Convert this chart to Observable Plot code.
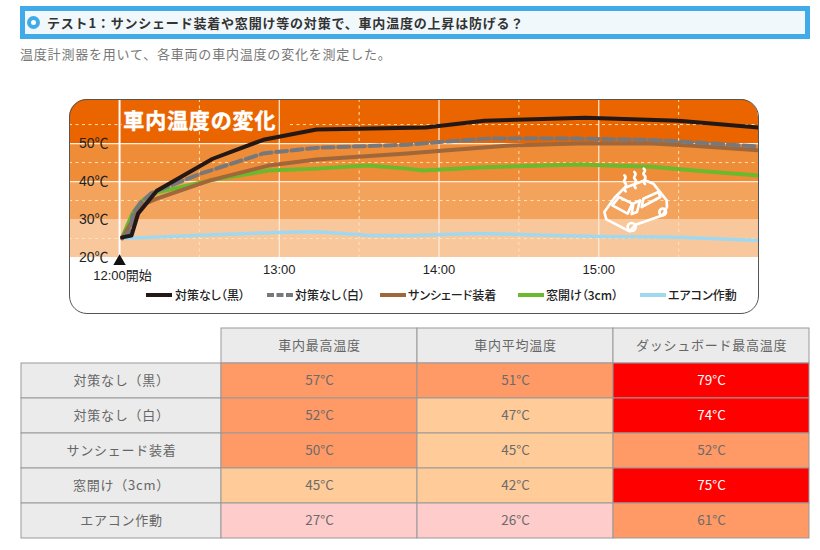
<!DOCTYPE html>
<html lang="ja">
<head>
<meta charset="utf-8">
<script src="https://cdn.jsdelivr.net/npm/d3@7"></script>
<script src="https://cdn.jsdelivr.net/npm/@observablehq/plot@0.6"></script>
<style>
html,body{margin:0;padding:0;background:#fff;width:820px;height:550px;overflow:hidden;font-family:"Noto Sans CJK JP","Noto Sans",sans-serif}
#head{position:absolute;left:20px;top:6px;width:780px;height:23px;border:5px solid #41aae8;background:#f1f8fc;color:#333;font-weight:700;font-size:13px;letter-spacing:.8px;line-height:23px}
#head i{position:absolute;left:1.5px;top:4.5px;width:5px;height:5px;border:4px solid #41aae8;border-radius:50%;background:#fff}
#head span{position:absolute;left:22px;top:0;white-space:nowrap}
#sub{position:absolute;left:20px;top:44px;color:#777;font-size:13px;letter-spacing:.8px;line-height:20px;white-space:nowrap}
#panel{position:absolute;left:69px;top:99px;width:689px;height:214px;border-radius:18px;overflow:hidden;background:#fff}
#panel svg{display:block}
#edge{position:absolute;left:68.5px;top:98.5px;width:688px;height:213px;border:1px solid #555;border-radius:18px;pointer-events:none}
#car{position:absolute;left:595px;top:162px;width:85px;height:76px}
#legend span{position:absolute;top:287px;color:#222;font-size:12px;font-weight:500;line-height:16px;white-space:nowrap;font-feature-settings:"palt"}
#legend svg{position:absolute;top:293px;width:26px;height:4px}
#table{position:absolute;left:0;top:320px}
.spaced text{letter-spacing:.75px}
.title-text text{letter-spacing:.85px}
</style>
</head>
<body>
<div id="head"><i></i><span>テスト1：サンシェード装着や窓開け等の対策で、車内温度の上昇は防げる？</span></div>
<div id="sub">温度計測器を用いて、各車両の車内温度の変化を測定した。</div>
<div id="panel"></div>
<div id="edge"></div>
<svg id="car" viewBox="0 0 255 228" fill="none" stroke="#fff" stroke-width="8" stroke-linejoin="round" stroke-linecap="round">
  <path d="M28 150 L58 108 L88 78 L150 55 L175 65 L215 115 L216 135 L203 160 L122 188 L104 208 L34 172 Z"/>
  <path d="M52 130 L72 105 L112 125 L98 155 Z"/>
  <path d="M115 125 L135 115 L126 150 L110 156 Z"/>
  <path d="M145 110 L190 90 L196 105 L140 135 Z"/>
  <circle cx="110" cy="195" r="12"/>
  <circle cx="203" cy="150" r="10"/>
  <path d="M92 88 C80 78 102 72 90 62 C80 54 100 50 88 40"/>
  <path d="M122 78 C110 68 132 62 120 52 C110 44 130 40 118 30"/>
  <path d="M150 66 C138 56 160 50 148 40 C138 32 158 28 146 20"/>
</svg>
<div id="legend"></div>
<div id="table"></div>
<script>
// Chart data: minutes after 12:00, temperature in °C
const blackMin = [1, 4.5, 7, 14, 35, 54, 74, 115, 137, 175, 210, 240];
const blackTemp = [25.3, 25.8, 31.6, 37.6, 46, 51, 53.7, 54.2, 56, 56.8, 56, 54.2];
const whiteMin = [1, 4, 5, 8, 11.7, 14.3, 30.5, 54, 74.5, 108, 122, 138, 172, 197, 212, 240];
const whiteTemp = [25.3, 27, 31.6, 34.5, 36.8, 37.6, 42.1, 47.4, 48.9, 49.7, 50.5, 51.3, 51.3, 51, 50.5, 49.2];
const shadeMin = [1, 8, 14, 34, 56, 74, 108, 122, 147, 172, 200, 214, 240];
const shadeTemp = [25, 33.7, 35.5, 40.3, 44.2, 45.8, 47.4, 48.2, 49.5, 50, 50, 49.5, 48.2];
const windowMin = [1, 5, 8.6, 14, 34, 56, 74, 93, 108, 114, 135, 172, 200, 216, 240];
const windowTemp = [25.3, 31.8, 35, 37.1, 40.3, 42.9, 43.4, 44.2, 43.4, 42.9, 43.7, 44.5, 43.9, 42.9, 41.6];
const acMin = [1, 28, 59, 74.5, 94, 109, 135, 180, 210, 240];
const acTemp = [25, 25.8, 26.6, 26.8, 25.8, 25.8, 26.3, 25.5, 25.3, 24.5];

const seriesNames = ["エアコン作動", "窓開け（3cm）", "サンシェード装着", "対策なし（白）", "対策なし（黒）"];
const seriesColors = ["#a0d8ef", "#6cb92d", "#a0673a", "#77787b", "#231815"];
const seriesMins = [acMin, windowMin, shadeMin, whiteMin, blackMin];
const seriesTemps = [acTemp, windowTemp, shadeTemp, whiteTemp, blackTemp];

const bandLows = [20, 30, 40, 50];
const bandHighs = [30, 40, 50, 61.6];
const bandColors = ["#f8c89c", "#f3a35c", "#ef8c38", "#ea6500"];
const hourTicks = [60, 120, 180];
const hourLabels = ["13:00", "14:00", "15:00"];
const tempTicks = [20, 30, 40, 50];

// Table data
const tableCols = ["車内最高温度", "車内平均温度", "ダッシュボード最高温度"];
const tableRows = ["対策なし（黒）", "対策なし（白）", "サンシェード装着", "窓開け（3cm）", "エアコン作動"];
const maxTemp = [57, 52, 50, 45, 27];
const avgTemp = [51, 47, 45, 42, 26];
const dashTemp = [79, 74, 52, 75, 61];

const lines = seriesNames.map((name, i) => {
  const rows = seriesMins[i].map((m, j) => ({m, t: seriesTemps[i][j]}));
  return Plot.line(rows, {
    x: "m", y: "t", stroke: seriesColors[i], strokeWidth: i === 0 ? 3.5 : 4,
    strokeDasharray: i === 3 ? "11,4.6" : null, strokeLinejoin: "round"
  });
});

const bands = bandLows.map((lo, i) => ({lo, hi: bandHighs[i], c: bandColors[i]}));
const dashColor = "#ffe3b5";

const chart = Plot.plot({
  width: 689, height: 214,
  marginLeft: 0, marginRight: 0, marginTop: 0, marginBottom: 56,
  style: {background: "#fff", fontFamily: '"Liberation Sans","Noto Sans CJK JP",sans-serif', overflow: "visible"},
  x: {domain: [-18.8, 240], axis: null},
  y: {domain: [20, 61.6], axis: null},
  marks: [
    Plot.rect(bands, {x1: -18.8, x2: 240, y1: "lo", y2: "hi", fill: "c"}),
    Plot.ruleY([25, 35, 45, 55], {stroke: dashColor, strokeWidth: 1, strokeDasharray: "3,3.5"}),
    Plot.ruleX([30, 90, 150, 210], {stroke: dashColor, strokeWidth: 1, strokeDasharray: "3,3.5"}),
    Plot.rect([{}], {x1: 1, x2: 63, y1: 53.5, y2: 58, fill: "#ea6500"}),
    Plot.ruleY([40, 50], {stroke: "#ffeedd", strokeWidth: 1.2}),
    Plot.ruleX(hourTicks, {stroke: "#ffeedd", strokeWidth: 1.2}),
    Plot.ruleX([0], {stroke: "#fff", strokeWidth: 2}),
    Plot.text(["車内温度の変化"], {
      x: 1.4, y: 55.9, text: d => d, textAnchor: "start", fill: "#fff", stroke: "#fff", strokeWidth: 0.5,
      fontSize: 21, fontWeight: 700, fontFamily: '"Noto Sans CJK JP"', className: "title-text"
    }),
    Plot.axisY(tempTicks, {
      anchor: "left", tickSize: 0, tickPadding: 0, dx: 39,
      tickFormat: d => d + "℃", label: null, fontSize: 14, fill: "#222"
    }),
    Plot.axisX(hourTicks, {
      anchor: "bottom", tickSize: 0, tickPadding: 7, label: null,
      tickFormat: d => hourLabels[hourTicks.indexOf(d)], fontSize: 13, fill: "#222"
    }),
    Plot.dot([0], {x: d => d, y: 20, symbol: "triangle", r: 4.6, fill: "#111", dy: 4}),
    Plot.text(["12:00開始"], {
      x: 0, y: 20, text: d => d, dy: 18, dx: 3, fill: "#222", fontSize: 13,
      fontFamily: '"Liberation Sans","Noto Sans CJK JP",sans-serif'
    }),
    ...lines
  ]
});
document.getElementById("panel").append(chart);

// Legend (in reference order, left to right)
const legendOrder = [4, 3, 2, 1, 0];
const legendLabels = ["対策なし（黒）", "対策なし（白）", "サンシェード装着", "窓開け（3cm）", "エアコン作動"];
const legendSwatchAt = [146, 267, 380, 518, 640];
const legendTextAt = [175, 295, 408, 546, 668];
const legend = document.getElementById("legend");
legendOrder.forEach((s, i) => {
  const ns = "http://www.w3.org/2000/svg";
  const svg = document.createElementNS(ns, "svg");
  svg.style.left = legendSwatchAt[i] + "px";
  const l = document.createElementNS(ns, "line");
  l.setAttribute("x1", 0); l.setAttribute("x2", 26); l.setAttribute("y1", 2); l.setAttribute("y2", 2);
  l.setAttribute("stroke", seriesColors[s]); l.setAttribute("stroke-width", 4);
  if (s === 3) l.setAttribute("stroke-dasharray", "7,2.5");
  svg.append(l); legend.append(svg);
  const t = document.createElement("span");
  t.textContent = legendLabels[i];
  t.style.left = legendTextAt[i] + "px";
  legend.append(t);
});

// Table
const headCells = tableCols.map(c => ({col: c, row: "", label: c}));
const sideCells = tableRows.map(r => ({col: " ", row: r, label: r}));
const valueSets = [maxTemp, avgTemp, dashTemp];
const valueCells = tableCols.flatMap((c, i) => tableRows.map((r, j) => ({col: c, row: r, v: valueSets[i][j]})));
const tableFont = '"Noto Sans CJK JP",sans-serif';

const table = Plot.plot({
  width: 820, height: 225,
  marginLeft: 24, marginRight: 10, marginTop: 8, marginBottom: 7,
  style: {background: "transparent", fontFamily: tableFont},
  x: {domain: [" ", ...tableCols], padding: 0, axis: null},
  y: {domain: ["", ...tableRows], padding: 0, axis: null},
  color: {type: "threshold", domain: [30, 50, 70], range: ["#ffcccc", "#ffcc99", "#ff9966", "#ff0000"]},
  marks: [
    Plot.cell(sideCells, {x: "col", y: "row", fill: "#ebebeb", stroke: "#999", strokeWidth: 1, insetLeft: -4}),
    Plot.cell(headCells, {x: "col", y: "row", fill: "#ebebeb", stroke: "#999", strokeWidth: 1}),
    Plot.cell(valueCells, {x: "col", y: "row", fill: "v", stroke: "#999", strokeWidth: 1}),
    Plot.text(headCells, {x: "col", y: "row", text: "label", fill: "#666", fontSize: 13, fontFamily: tableFont, className: "spaced"}),
    Plot.text(sideCells, {x: "col", y: "row", text: "label", fill: "#666", fontSize: 13, fontFamily: tableFont, dx: -2, className: "spaced"}),
    Plot.text(valueCells, {
      x: "col", y: "row", text: d => d.v + "°C",
      fill: d => d.v >= 70 ? "#fff" : "#6b6b6b", fontSize: 13.5, fontFamily: tableFont
    })
  ]
});
document.getElementById("table").append(table);
</script>
</body>
</html>
